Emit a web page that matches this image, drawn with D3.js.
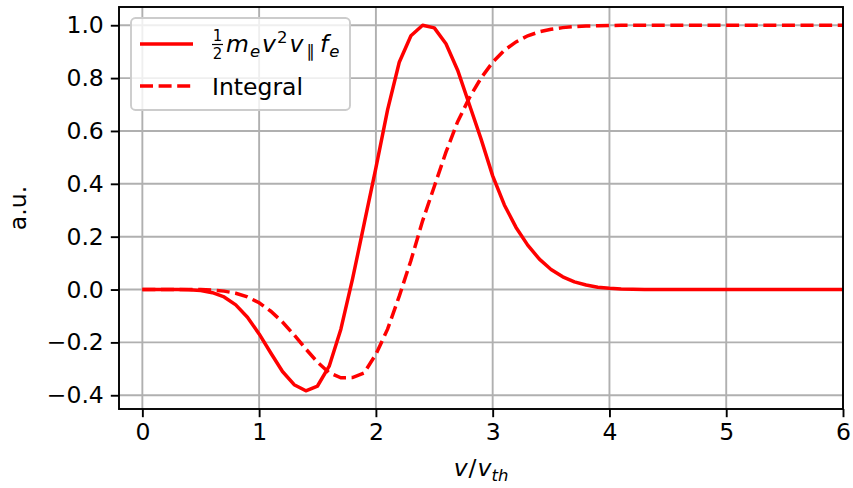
<!DOCTYPE html>
<html>
<head>
<meta charset="utf-8">
<script src="https://cdn.jsdelivr.net/npm/d3@7"></script>
<style>
  body { margin: 0; background: #fff; }
  text { font-family: "DejaVu Sans", sans-serif; }
</style>
</head>
<body>
<div id="chart"></div>
<script>
// v / v_th sample points
const vValues = [0.0, 0.1, 0.2, 0.3, 0.4, 0.5, 0.6, 0.7, 0.8, 0.9,
  1.0, 1.1, 1.2, 1.3, 1.4, 1.5, 1.6, 1.7, 1.8, 1.9,
  2.0, 2.1, 2.2, 2.3, 2.4, 2.5, 2.6, 2.7, 2.8, 2.9,
  3.0, 3.1, 3.2, 3.3, 3.4, 3.5, 3.6, 3.7, 3.8, 3.9,
  4.0, 4.1, 4.2, 4.3, 4.4, 4.5, 4.6, 4.7, 4.8, 4.9,
  5.0, 5.1, 5.2, 5.3, 5.4, 5.5, 5.6, 5.7, 5.8, 5.9, 6.0]

// 1/2 m_e v^2 v_par f_e (solid)
const fluxValues = [0, 0, 0, 0, -0.001, -0.004, -0.012, -0.028, -0.058, -0.105,
  -0.168, -0.24, -0.31, -0.36, -0.383, -0.365, -0.29, -0.15, 0.04, 0.25,
  0.46, 0.68, 0.86, 0.96, 1.0, 0.99, 0.93, 0.83, 0.70, 0.57,
  0.43, 0.32, 0.235, 0.168, 0.115, 0.076, 0.048, 0.029, 0.017, 0.009,
  0.005, 0.002, 0.001, 0, 0, 0, 0, 0, 0, 0,
  0, 0, 0, 0, 0, 0, 0, 0, 0, 0, 0]

// running integral (dashed)
const integralValues = [0, 0, 0, 0, 0, 0, -0.002, -0.006, -0.014, -0.028,
  -0.05, -0.082, -0.123, -0.172, -0.225, -0.275, -0.315, -0.334, -0.333, -0.315,
  -0.245, -0.15, -0.025, 0.11, 0.26, 0.39, 0.52, 0.635, 0.725, 0.80,
  0.86, 0.905, 0.937, 0.96, 0.975, 0.985, 0.991, 0.995, 0.997, 0.998,
  0.999, 1, 1, 1, 1, 1, 1, 1, 1, 1,
  1, 1, 1, 1, 1, 1, 1, 1, 1, 1, 1]

const xTicks = [0, 1, 2, 3, 4, 5, 6]
const yTicks = [-0.4, -0.2, 0.0, 0.2, 0.4, 0.6, 0.8, 1.0]
const yTickLabels = ["\u22120.4", "\u22120.2", "0.0", "0.2", "0.4", "0.6", "0.8", "1.0"]

const W = 853, H = 488
const margin = {top: 7, right: 10, bottom: 79, left: 119},
  width = W - margin.left - margin.right,
  height = H - margin.top - margin.bottom

const fontSize = 23.5
const lw = 1.9

const svg = d3.select("#chart")
  .append("svg")
    .attr("width", W)
    .attr("height", H)

const g = svg.append("g")
  .attr("transform", `translate(${margin.left},${margin.top})`)

const x = d3.scaleLinear().domain([-0.2, 6]).range([0, width])
const y = d3.scaleLinear().domain([-0.452, 1.069]).range([height, 0])

// grid
g.selectAll(".xgrid")
  .data(xTicks)
  .join("line")
    .attr("x1", d => x(d)).attr("x2", d => x(d))
    .attr("y1", 0).attr("y2", height)
    .attr("stroke", "#b0b0b0")
    .attr("stroke-width", lw)
g.selectAll(".ygrid")
  .data(yTicks)
  .join("line")
    .attr("y1", d => y(d)).attr("y2", d => y(d))
    .attr("x1", 0).attr("x2", width)
    .attr("stroke", "#b0b0b0")
    .attr("stroke-width", lw)

// axes
const xAxis = g.append("g")
  .attr("transform", `translate(0,${height})`)
  .call(d3.axisBottom(x).tickValues(xTicks).tickFormat(d3.format("d")).tickSizeInner(8.2).tickSizeOuter(0).tickPadding(6))
const yAxis = g.append("g")
  .call(d3.axisLeft(y).tickValues(yTicks).tickFormat((d, i) => yTickLabels[i]).tickSizeInner(8.2).tickSizeOuter(0).tickPadding(7))

;[xAxis, yAxis].forEach(a => {
  a.select(".domain").remove()
  a.selectAll(".tick line").attr("stroke", "#000").attr("stroke-width", lw)
  a.selectAll(".tick text")
    .attr("fill", "#000")
    .style("font-size", fontSize + "px")
    .style("font-family", "DejaVu Sans")
})

// lines
const line = d3.line()
  .x((d, i) => x(vValues[i]))
  .y(d => y(d))

g.append("path")
  .datum(fluxValues)
  .attr("fill", "none")
  .attr("stroke", "#ff0000")
  .attr("stroke-width", 3.5)
  .attr("stroke-linejoin", "round")
  .attr("d", line)

g.append("path")
  .datum(integralValues)
  .attr("fill", "none")
  .attr("stroke", "#ff0000")
  .attr("stroke-width", 3.5)
  .attr("stroke-dasharray", "13,5.6")
  .attr("d", line)

// frame
g.append("rect")
  .attr("width", width).attr("height", height)
  .attr("fill", "none")
  .attr("stroke", "#000")
  .attr("stroke-width", lw)

// axis labels
const xl = svg.append("text")
  .attr("x", margin.left + width / 2)
  .attr("y", 476)
  .attr("text-anchor", "middle")
  .style("font-size", fontSize + "px")
xl.append("tspan").attr("font-style", "italic").text("v")
xl.append("tspan").attr("dx", 1).text("/")
xl.append("tspan").attr("font-style", "italic").attr("dx", 1).text("v")
xl.append("tspan").attr("font-style", "italic").attr("dy", 5).style("font-size", "16.5px").text("th")

svg.append("text")
  .attr("transform", `translate(26,${margin.top + height / 2}) rotate(-90)`)
  .attr("text-anchor", "middle")
  .style("font-size", fontSize + "px")
  .text("a.u.")

// legend
const leg = svg.append("g")
leg.append("rect")
  .attr("x", 131).attr("y", 18)
  .attr("width", 219).attr("height", 92)
  .attr("rx", 4.5)
  .attr("fill", "#fff").attr("fill-opacity", 0.8)
  .attr("stroke", "#cccccc").attr("stroke-width", lw)

leg.append("line")
  .attr("x1", 140).attr("x2", 193).attr("y1", 44).attr("y2", 44)
  .attr("stroke", "#ff0000").attr("stroke-width", 3.5)
leg.append("line")
  .attr("x1", 140).attr("x2", 193).attr("y1", 86).attr("y2", 86)
  .attr("stroke", "#ff0000").attr("stroke-width", 3.5)
  .attr("stroke-dasharray", "13,5.6")

// 1/2 fraction
leg.append("text").attr("x", 217.5).attr("y", 41).attr("text-anchor", "middle")
  .style("font-size", "15px").text("1")
leg.append("line").attr("x1", 212).attr("x2", 223).attr("y1", 44.5).attr("y2", 44.5)
  .attr("stroke", "#000").attr("stroke-width", 1.2)
leg.append("text").attr("x", 217.5).attr("y", 59).attr("text-anchor", "middle")
  .style("font-size", "15px").text("2")

const lab = leg.append("text")
  .attr("x", 226).attr("y", 52)
  .style("font-size", fontSize + "px")
lab.append("tspan").attr("font-style", "italic").text("m")
lab.append("tspan").attr("font-style", "italic").attr("dy", 5).attr("dx", 1).style("font-size", "16.5px").text("e")
lab.append("tspan").attr("font-style", "italic").attr("dy", -5).attr("dx", 2).text("v")
lab.append("tspan").attr("dy", -9).attr("dx", 1).style("font-size", "16.5px").text("2")
lab.append("tspan").attr("font-style", "italic").attr("dy", 9).attr("dx", 2).text("v")
lab.append("tspan").attr("dy", 5).attr("dx", 3).style("font-size", "17px").text("\u2225")
lab.append("tspan").attr("font-style", "italic").attr("dy", -5).attr("dx", 5).text("f")
lab.append("tspan").attr("font-style", "italic").attr("dy", 5).attr("dx", 1).style("font-size", "16.5px").text("e")

leg.append("text")
  .attr("x", 212).attr("y", 94.5)
  .style("font-size", fontSize + "px")
  .text("Integral")
</script>
</body>
</html>
